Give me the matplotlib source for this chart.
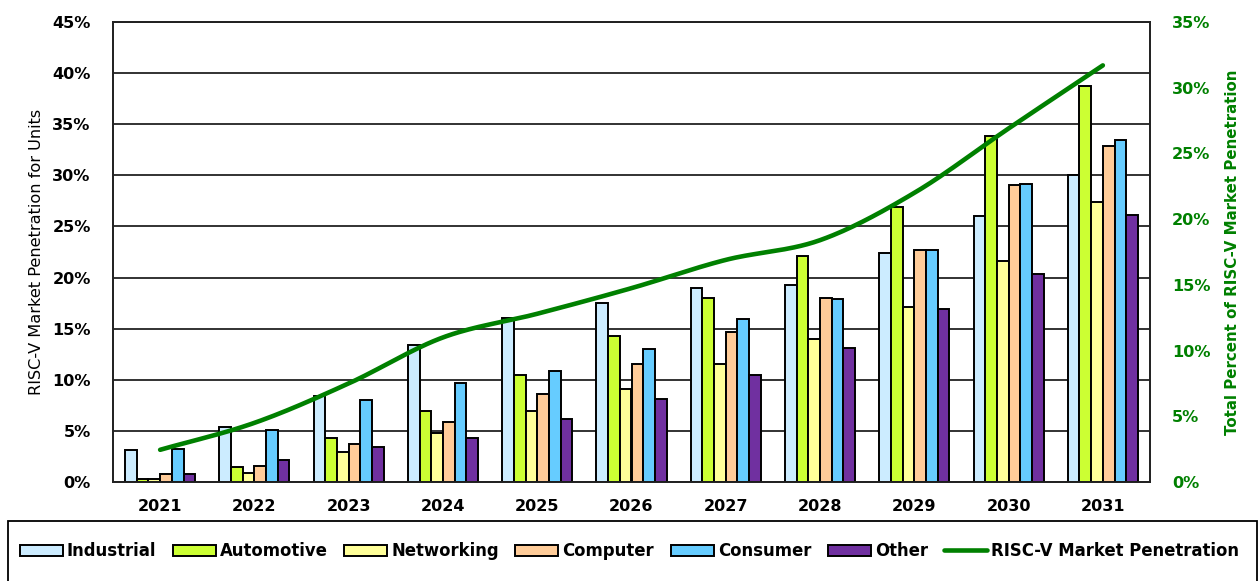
import numpy as np
import matplotlib
matplotlib.use("Agg")
import matplotlib.pyplot as plt
from matplotlib.patches import Rectangle
from matplotlib.ticker import PercentFormatter

plt.rcParams['font.family'] = ['DejaVu Sans']

years = ['2021', '2022', '2023', '2024', '2025', '2026', '2027', '2028', '2029', '2030', '2031']
segments = ['Industrial', 'Automotive', 'Networking', 'Computer', 'Consumer', 'Other']

# per-segment penetration (%), left axis
industrial = [3.1, 5.35, 8.4, 13.4, 16.0, 17.55, 18.95, 19.25, 22.45, 26.05, 30.05]
automotive = [0.3, 1.5, 4.3, 6.9, 10.5, 14.3, 18.0, 22.1, 26.95, 33.8, 38.75]
networking = [0.3, 0.85, 2.9, 4.75, 6.95, 9.1, 11.5, 13.95, 17.15, 21.65, 27.35]
computer = [0.8, 1.6, 3.7, 5.9, 8.6, 11.55, 14.7, 18.0, 22.7, 29.05, 32.9]
consumer = [3.2, 5.1, 8.0, 9.65, 10.9, 13.0, 15.9, 17.9, 22.7, 29.15, 33.45]
other = [0.8, 2.2, 3.45, 4.35, 6.2, 8.15, 10.5, 13.15, 16.95, 20.3, 26.1]
series = [industrial, automotive, networking, computer, consumer, other]
colors = ['#CCECFF', '#CCFF33', '#FFFF99', '#FFCC99', '#66CCFF', '#7030A0']

# total penetration (%), right axis
total = [2.45, 4.5, 7.5, 11.0, 12.8, 14.75, 16.9, 18.4, 22.0, 26.9, 31.7]


def smooth(xs, ys, n=30):
    # Catmull-Rom curve through the points, like Excel's smoothed line
    xs = np.asarray(xs, float)
    ys = np.asarray(ys, float)
    px = np.concatenate([[2 * xs[0] - xs[1]], xs, [2 * xs[-1] - xs[-2]]])
    py = np.concatenate([[2 * ys[0] - ys[1]], ys, [2 * ys[-1] - ys[-2]]])
    outx, outy = [], []
    t = np.linspace(0, 1, n)
    for i in range(1, len(px) - 2):
        for p, out in ((px, outx), (py, outy)):
            p0, p1, p2, p3 = p[i - 1], p[i], p[i + 1], p[i + 2]
            out.extend(0.5 * ((2 * p1) + (-p0 + p2) * t
                              + (2 * p0 - 5 * p1 + 4 * p2 - p3) * t ** 2
                              + (-p0 + 3 * p1 - 3 * p2 + p3) * t ** 3))
    return np.array(outx), np.array(outy)


fig = plt.figure(figsize=(12.59, 5.81), dpi=100)
ax = fig.add_axes([113 / 1259, 1 - 482 / 581, (1150 - 113) / 1259, (482 - 22) / 581])

x = np.arange(len(years))
w = 0.124
for k, (vals, c) in enumerate(zip(series, colors)):
    ax.bar(x + (k - 2.5) * w, vals, w, color=c, edgecolor='black',
           linewidth=1.4, label=segments[k], zorder=3)

ax.set_xlim(-0.5, len(years) - 0.5)
ax.set_ylim(0, 45)
ax.set_yticks(np.arange(0, 46, 5))
ax.yaxis.set_major_formatter(PercentFormatter(decimals=0))
ax.set_xticks(x)
ax.set_xticklabels(years)
ax.grid(axis='y', color='#222222', linewidth=1.3, zorder=0)
ax.tick_params(axis='y', length=0, labelsize=11.6, pad=16)
ax.tick_params(axis='x', length=0, labelsize=11.5, pad=12)
for lab in ax.get_xticklabels() + ax.get_yticklabels():
    lab.set_fontweight('bold')
for s in ax.spines.values():
    s.set_color('#222222')
    s.set_linewidth(1.3)
ax.set_ylabel('RISC-V Market Penetration for Units', fontsize=11.6, labelpad=6)

ax2 = ax.twinx()
sx, sy = smooth(x, total)
ax2.plot(sx, sy, color='#008000', linewidth=3.3, solid_capstyle='round',
         label='RISC-V Market Penetration')
ax2.set_ylim(0, 35)
ax2.set_yticks(np.arange(0, 36, 5))
ax2.yaxis.set_major_formatter(PercentFormatter(decimals=0))
ax2.tick_params(length=0, labelsize=11.6, pad=16, labelcolor='#008000')
for lab in ax2.get_yticklabels():
    lab.set_fontweight('bold')
for s in ax2.spines.values():
    s.set_color('#222222')
    s.set_linewidth(1.3)
ax2.set_ylabel('Total Percent of RISC-V Market Penetration', fontsize=10.8,
               color='#008000', fontweight='bold', labelpad=10)

# legend box along the bottom
fig.patches.append(Rectangle((8 / 1259, -0.02), 1249 / 1259, (581 - 521) / 581 + 0.02,
                             transform=fig.transFigure, fill=False,
                             edgecolor='black', linewidth=1.3))
h1, l1 = ax.get_legend_handles_labels()
h2, l2 = ax2.get_legend_handles_labels()
leg = fig.legend(h1 + h2, l1 + l2, loc='center', bbox_to_anchor=(0.5, 1 - 551 / 581),
                 ncol=7, frameon=False, fontsize=11.9, handlelength=2.6,
                 handleheight=0.65, handletextpad=0.25, columnspacing=1.0)
for t in leg.get_texts():
    t.set_fontweight('bold')

fig.savefig('out.png', dpi=100)
